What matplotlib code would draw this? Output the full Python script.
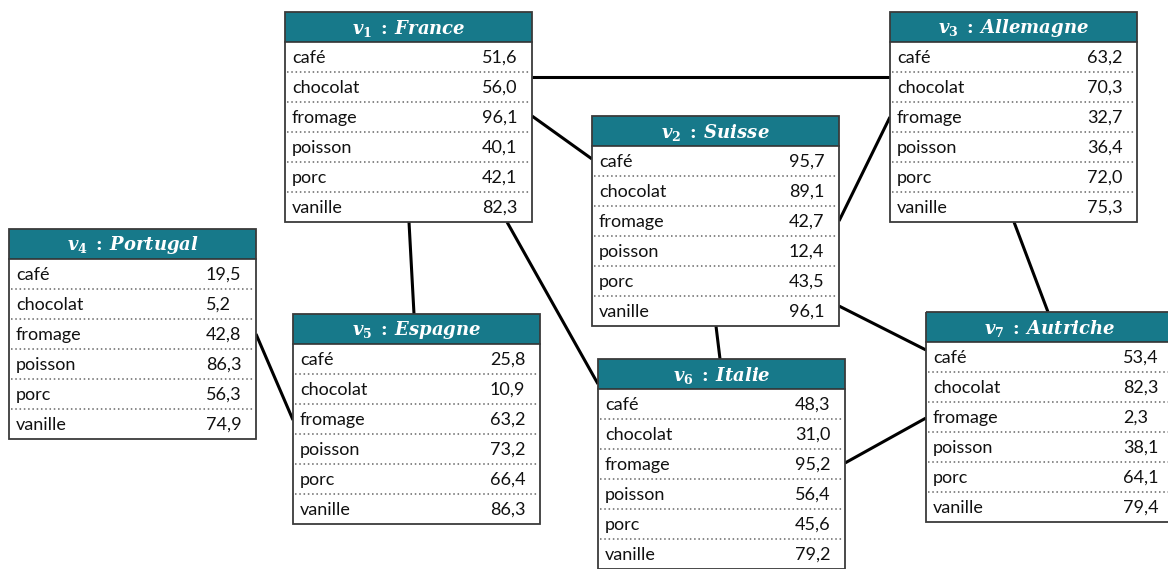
import matplotlib.pyplot as plt
from matplotlib.patches import Rectangle

# données
foods = ["café", "chocolat", "fromage", "poisson", "porc", "vanille"]
nodes = ["v1", "v2", "v3", "v4", "v5", "v6", "v7"]
countries = ["France", "Suisse", "Allemagne", "Portugal", "Espagne", "Italie", "Autriche"]
france = ["51,6", "56,0", "96,1", "40,1", "42,1", "82,3"]
suisse = ["95,7", "89,1", "42,7", "12,4", "43,5", "96,1"]
allemagne = ["63,2", "70,3", "32,7", "36,4", "72,0", "75,3"]
portugal = ["19,5", "5,2", "42,8", "86,3", "56,3", "74,9"]
espagne = ["25,8", "10,9", "63,2", "73,2", "66,4", "86,3"]
italie = ["48,3", "31,0", "95,2", "56,4", "45,6", "79,2"]
autriche = ["53,4", "82,3", "2,3", "38,1", "64,1", "79,4"]
values = [france, suisse, allemagne, portugal, espagne, italie, autriche]
edges = [("v1", "v3"), ("v1", "v2"), ("v2", "v3"), ("v2", "v7"), ("v3", "v7"),
         ("v1", "v5"), ("v1", "v6"), ("v2", "v6"), ("v4", "v5"), ("v6", "v7")]

# mise en page (pixels)
box_pos = {"v1": (285, 12), "v2": (592, 116), "v3": (890, 12), "v4": (9, 229),
           "v5": (293, 314), "v6": (598, 359), "v7": (926, 312)}
BW, HH, RH = 247, 30, 30
# ancrage des arêtes : (côté, décalage depuis le haut / la gauche)
anchors = [(("r", 65), ("l", 65)), (("r", 104), ("l", 43)), (("r", 105), ("l", 105)),
           (("r", 190), ("l", 38)), (("b", 124), ("t", 122)), (("b", 124), ("t", 121)),
           (("b", 222), ("l", 25)), (("b", 124), ("t", 122)), (("r", 105), ("l", 106)),
           (("r", 104), ("l", 106))]

TEAL = "#17798a"
plt.rcParams["mathtext.fontset"] = "dejavuserif"

fig = plt.figure(figsize=(11.68, 5.69), dpi=100)
ax = fig.add_axes([0, 0, 1, 1])
ax.set_xlim(0, 1168)
ax.set_ylim(569, 0)
ax.axis("off")


def anchor_point(node, side, off):
    x, y = box_pos[node]
    h = HH + RH * len(foods)
    if side == "r":
        return x + BW, y + off
    if side == "l":
        return x, y + off
    if side == "b":
        return x + off, y + h
    return x + off, y


for (a, b), (sa, sb) in zip(edges, anchors):
    x1, y1 = anchor_point(a, *sa)
    x2, y2 = anchor_point(b, *sb)
    ax.plot([x1, x2], [y1, y2], color="black", lw=2.2, solid_capstyle="butt", zorder=1)

for node, country, vals in zip(nodes, countries, values):
    x, y = box_pos[node]
    h = HH + RH * len(foods)
    ax.add_patch(Rectangle((x, y), BW, h, facecolor="white", edgecolor="none", zorder=2))
    ax.add_patch(Rectangle((x, y), BW, HH, facecolor=TEAL, edgecolor="none", zorder=3))
    idx = node[1:]
    ax.text(x + BW / 2, y + HH / 2 + 1,
            r"$\mathbfit{v}_{\mathbf{" + idx + r"}}\;\mathbf{:}\;\mathbfit{" + country + "}$",
            color="white", fontsize=13, ha="center", va="center", zorder=4)
    for i, (food, v) in enumerate(zip(foods, vals)):
        ry = y + HH + RH * i
        ax.text(x + 7, ry + RH / 2 + 1, food, fontsize=13, family="Lato",
                color="#111111", ha="left", va="center", zorder=4)
        ax.text(x + 197, ry + RH / 2 + 1, v, fontsize=13, family="Lato",
                color="#111111", ha="left", va="center", zorder=4)
        if i > 0:
            ax.plot([x + 2, x + BW - 2], [ry, ry], color="#666666", lw=1.1,
                    linestyle=(0, (1, 1.8)), zorder=4)
    ax.plot([x, x + BW], [y + HH, y + HH], color="#333333", lw=1.2, zorder=5)
    ax.add_patch(Rectangle((x, y), BW, h, facecolor="none", edgecolor="#3a3a3a",
                           lw=1.3, zorder=5))

fig.savefig("out.png", dpi=100)
